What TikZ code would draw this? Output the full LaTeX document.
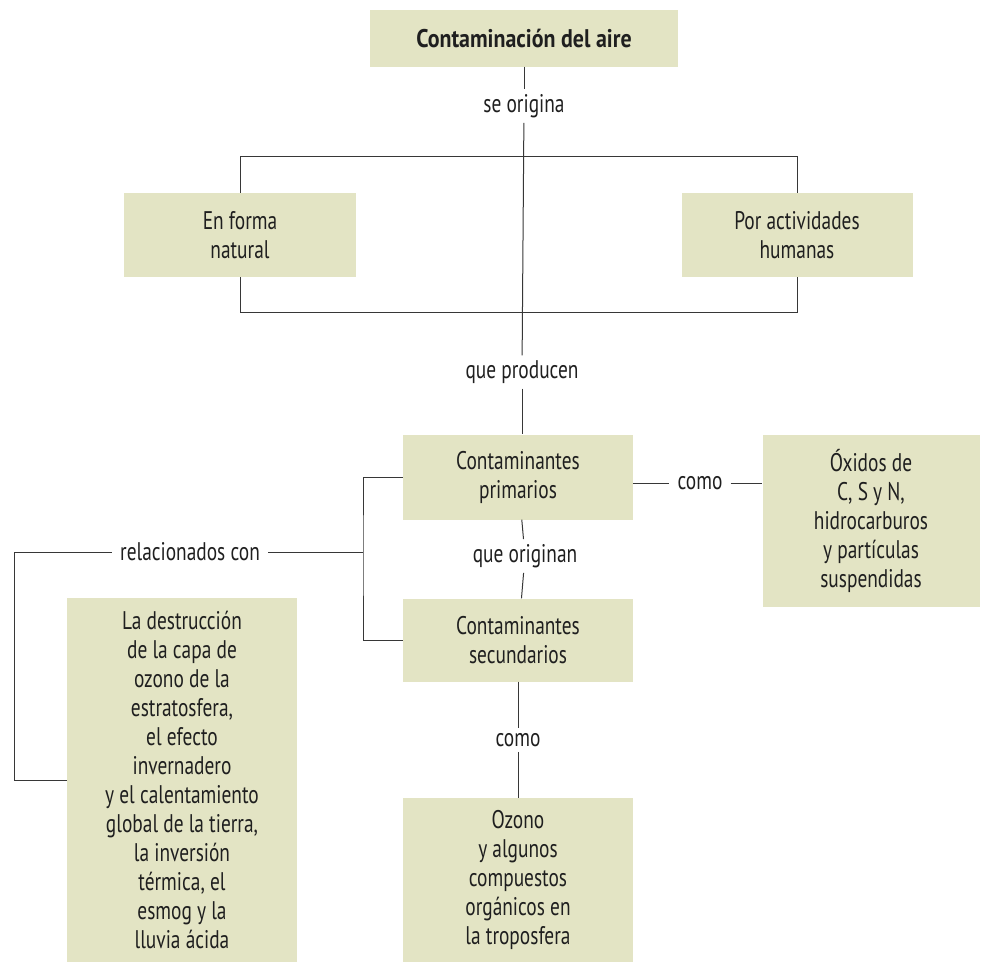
\documentclass[tikz,border=0pt]{standalone}
\usepackage{fontspec}
\setmainfont[FakeStretch=0.76, BoldFeatures={FakeStretch=0.86}]{PT Sans}
\definecolor{fondocaja}{RGB}{227,228,196}
\definecolor{trazo}{RGB}{55,55,55}
\tikzset{
  caja/.style={fill=fondocaja, align=center, inner sep=0pt, text=black!88,
    font=\fontsize{25.5}{29}\selectfont},
  rotulo/.style={inner xsep=8pt, inner ysep=5pt, text=black!88,
    font=\fontsize{25.5}{29}\selectfont},
  enlace/.style={draw=trazo, line width=1pt}
}
\begin{document}
\begin{tikzpicture}[x=1pt, y=-1pt]
  \pgfmathsetmacro{\cw}{230}
  \useasboundingbox (0,0) rectangle (981,964);
  % cajas
  \node[caja, minimum width=308pt, minimum height=57pt, font=\fontsize{25.5}{29}\selectfont\bfseries] (aire) at (524,38) {Contaminación del aire};
  \node[caja, minimum width=232pt, minimum height=84pt] (natural) at (240,235) {En forma\\natural};
  \node[caja, minimum width=231pt, minimum height=84pt] (humanas) at (797,235) {Por actividades\\humanas};
  \node[caja, minimum width=\cw pt, minimum height=85pt] (primarios) at (518,477) {Contaminantes\\primarios};
  \node[caja, minimum width=217pt, minimum height=172pt] (oxidos) at (871,521) {Óxidos de\\C, S y N,\\hidrocarburos\\y partículas\\suspendidas};
  \node[caja, minimum width=\cw pt, minimum height=83pt] (secundarios) at (518,640) {Contaminantes\\secundarios};
  \node[caja, minimum width=\cw pt, minimum height=164pt] (ozono) at (518,880) {Ozono\\y algunos\\compuestos\\orgánicos en\\la troposfera};
  \node[caja, minimum width=\cw pt, minimum height=364pt] (destruccion) at (182,780) {La destrucción\\de la capa de\\ozono de la\\estratosfera,\\el efecto\\invernadero\\y el calentamiento\\global de la tierra,\\la inversión\\térmica, el\\esmog y la\\lluvia ácida};
  % rotulos de los enlaces
  \node[rotulo] (origina) at (524,106) {se origina};
  \node[rotulo] (producen) at (522,372) {que producen};
  \node[rotulo] (como) at (700,483) {como};
  \node[rotulo] (originan) at (525,556) {que originan};
  \node[rotulo] (comob) at (518,740) {como};
  \node[rotulo] (relac) at (190,552) {relacionados con};
  \coordinate (rama) at (363,552);
  \coordinate (codo) at (14,780);
  % enlaces
  \draw[enlace] (aire) -- (origina);
  \draw[enlace] (origina) -- (producen);
  \draw[enlace] (natural.north) -- ++(0,-36) -| (humanas.north);
  \draw[enlace] (natural.south) -- ++(0,35) -| (humanas.south);
  \draw[enlace] (producen) -- (producen |- primarios.north);
  \draw[enlace] (primarios.east |- como) -- (como);
  \draw[enlace] (como) -- (oxidos.west |- como);
  \draw[enlace] (primarios) -- (originan);
  \draw[enlace] (originan) -- (secundarios);
  \draw[enlace] (secundarios) -- (comob);
  \draw[enlace] (comob) -- (ozono);
  \draw[enlace] (primarios.west) -| (rama) |- (secundarios.west);
  \draw[enlace] (rama) -- (relac);
  \draw[enlace] (relac) -| (codo) -- (destruccion);
\end{tikzpicture}
\end{document}
